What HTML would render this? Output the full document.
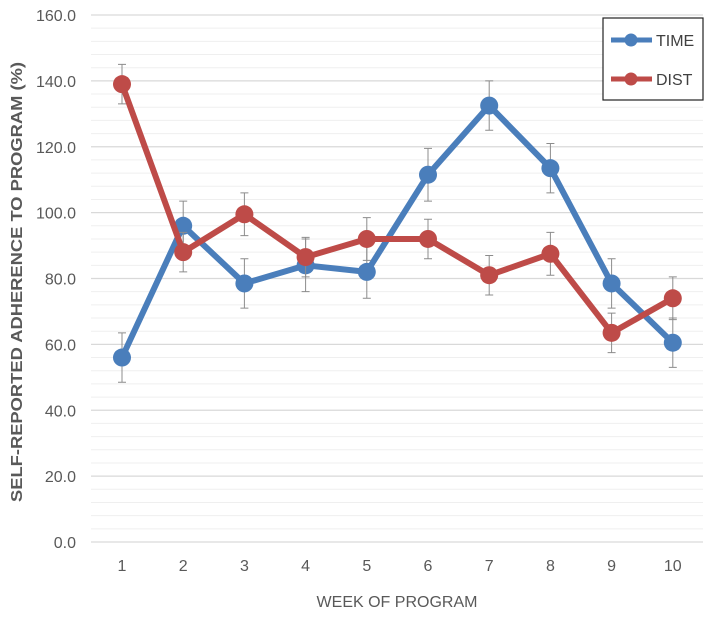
<!DOCTYPE html>
<html><head><meta charset="utf-8"><style>
body{margin:0;background:#fff;font-family:"Liberation Sans",sans-serif}
</style></head><body>
<svg id="chart" width="713" height="616" xmlns="http://www.w3.org/2000/svg"></svg>
<script>
const weeks=[1,2,3,4,5,6,7,8,9,10];
const timeVals=[56,96,78.5,84,82,111.5,132.5,113.5,78.5,60.5];
const timeErr=[7.5,7.5,7.5,8,8,8,7.5,7.5,7.5,7.5];
const distVals=[139,88,99.5,86.5,92,92,81,87.5,63.5,74];
const distErr=[6,6,6.5,6,6.5,6,6,6.5,6,6.5];
const yTicks=["0.0","20.0","40.0","60.0","80.0","100.0","120.0","140.0","160.0"];
const NS="http://www.w3.org/2000/svg";
const svg=document.getElementById('chart');
const L=91,R=703,T=15,B=542;
const x=w=>122+(w-1)*61.2;
const y=v=>B-(v/160)*(B-T);
function mk(tag,attrs,parent){const e=document.createElementNS(NS,tag);for(const k in attrs)e.setAttribute(k,attrs[k]);(parent||svg).appendChild(e);return e;}
for(let v=0;v<=160;v+=4){
  const g=mk('line',{x1:L,x2:R,y1:y(v),y2:y(v),stroke:v%20===0?'#d9d9d9':'#efefef','stroke-width':v%20===0?1.3:1});
  
  
}
yTicks.forEach((t,i)=>{
  const e=mk('text',{x:76,y:y(i*20)+6,'text-anchor':'end','font-size':16,fill:'#595959'});
  e.textContent=t;
  
  
});
weeks.forEach(w=>{
  const e=mk('text',{x:x(w),y:571,'text-anchor':'middle','font-size':16,fill:'#595959'});
  e.textContent=w;
  
  
});
const xt=mk('text',{x:397,y:607,'text-anchor':'middle','font-size':16,fill:'#595959'});
xt.textContent='WEEK OF PROGRAM';


const yt=mk('text',{x:0,y:0,'text-anchor':'middle','font-size':16,'font-weight':'bold',fill:'#595959',textLength:440,lengthAdjust:'spacingAndGlyphs',transform:'translate(22,282) rotate(-90)'});
yt.textContent='SELF-REPORTED ADHERENCE TO PROGRAM (%)';


function series(vals,errs,color,name){
  const g=mk('g',{});
  
  
  vals.forEach((v,i)=>{
    const cx=x(weeks[i]);
    const eb=mk('path',{d:`M${cx},${y(v-errs[i])}V${y(v+errs[i])}M${cx-4},${y(v-errs[i])}h8M${cx-4},${y(v+errs[i])}h8`,stroke:'#8c8c8c','stroke-width':1,fill:'none'},g);
    
    
  });
  const ln=mk('polyline',{points:vals.map((v,i)=>x(weeks[i])+','+y(v)).join(' '),fill:'none',stroke:color,'stroke-width':6,'stroke-linejoin':'round'},g);
  
  
  vals.forEach((v,i)=>{
    const c=mk('circle',{cx:x(weeks[i]),cy:y(v),r:9,fill:color},g);
    
    
  });
}
series(timeVals,timeErr,'#4a7ebb','time');
series(distVals,distErr,'#be4b48','dist');
const lg=mk('g',{});


mk('rect',{x:603,y:18,width:100,height:82,fill:'#fff',stroke:'#222','stroke-width':1.2},lg);
[['TIME','#4a7ebb',40],['DIST','#be4b48',79]].forEach(([n,c,yy])=>{
  const en=mk('g',{},lg);
  
  
  mk('line',{x1:611,x2:652,y1:yy,y2:yy,stroke:c,'stroke-width':5},en);
  mk('circle',{cx:631,cy:yy,r:6.5,fill:c},en);
  const t=mk('text',{x:656,y:yy+6,'font-size':16,fill:'#404040'},en);
  t.textContent=n;
});
</script>
</body></html>
